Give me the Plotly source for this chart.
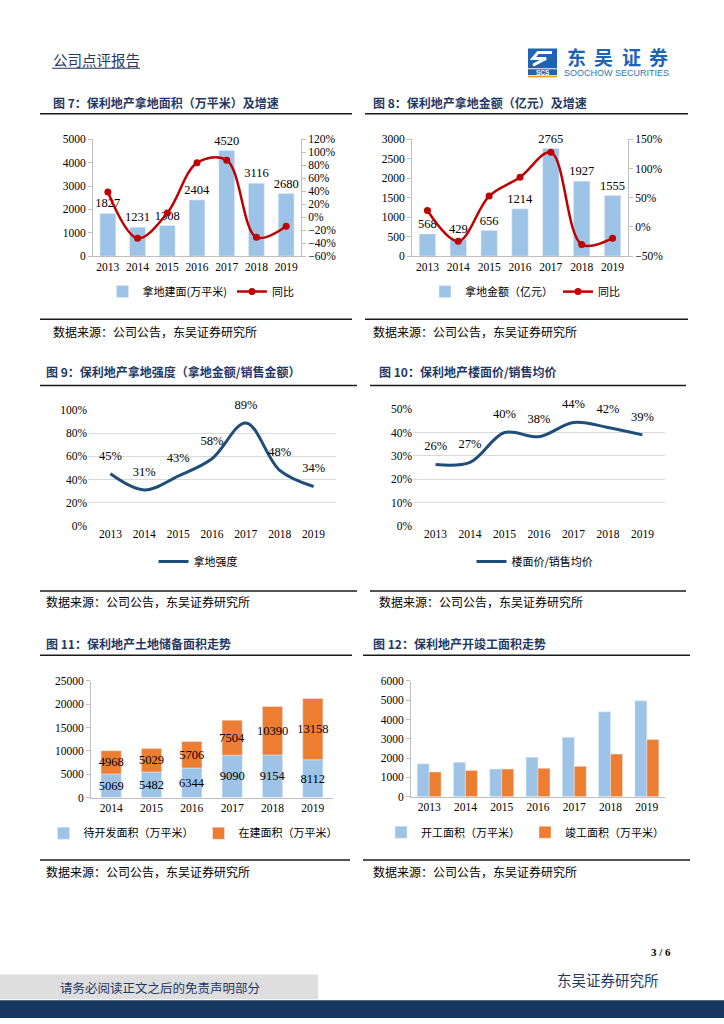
import plotly.graph_objects as go

W, H = 724, 1024
def X(px): return px / W
def Y(py): return 1 - py / H

# ---------------- data ----------------
years = ["2013", "2014", "2015", "2016", "2017", "2018", "2019"]
land_area = [1827, 1231, 1308, 2404, 4520, 3116, 2680]
land_area_yoy = [0.39, -0.326, 0.063, 0.838, 0.880, -0.311, -0.140]
land_amount = [568, 429, 656, 1214, 2765, 1927, 1555]
land_amount_yoy = [0.28, -0.245, 0.529, 0.850, 1.278, -0.303, -0.193]
land_intensity = [0.45, 0.31, 0.43, 0.58, 0.89, 0.48, 0.34]
price_ratio = [0.263, 0.272, 0.40, 0.382, 0.443, 0.422, 0.39]
reserve_years = ["2014", "2015", "2016", "2017", "2018", "2019"]
undeveloped = [5069, 5482, 6344, 9090, 9154, 8112]
under_construction = [4968, 5029, 5706, 7504, 10390, 13158]
start_area = [1700, 1790, 1430, 2040, 3080, 4400, 4970]
complete_area = [1280, 1360, 1430, 1470, 1570, 2210, 2960]

# ---------------- styles ----------------
BLUE = "#9DC3E6"
ORANGE = "#ED7D31"
RED = "#C00000"
NAVY_LINE = "#1F4E79"
TITLE_C = "#1F3864"
AX = "#BFBFBF"
NUMF = "Liberation Serif, Noto Sans CJK SC"
CJK = "Noto Sans CJK SC"
tickf = dict(family=NUMF, size=11.5, color="#000000")
labf = dict(family=NUMF, size=12.5, color="#000")

fig = go.Figure()

# ---- chart 1 ----
fig.add_trace(go.Bar(x=years, y=land_area, name="拿地建面(万平米)", marker_color=BLUE,
                     width=0.53, text=land_area, textposition="outside", cliponaxis=False,
                     constraintext="none", textangle=0, textfont=labf,
                     xaxis="x", yaxis="y", legend="legend"))
fig.add_trace(go.Scatter(x=years, y=land_area_yoy, name="同比", mode="lines+markers",
                         line=dict(color=RED, width=2.5, shape="spline"),
                         marker=dict(color=RED, size=7), cliponaxis=False,
                         xaxis="x", yaxis="y2", legend="legend"))
# ---- chart 2 ----
fig.add_trace(go.Bar(x=years, y=land_amount, name="拿地金额（亿元）", marker_color=BLUE,
                     width=0.53, text=land_amount, textposition="outside", cliponaxis=False,
                     constraintext="none", textangle=0, textfont=labf,
                     xaxis="x2", yaxis="y3", legend="legend2"))
fig.add_trace(go.Scatter(x=years, y=land_amount_yoy, name="同比", mode="lines+markers",
                         line=dict(color=RED, width=2.5, shape="spline"),
                         marker=dict(color=RED, size=7), cliponaxis=False,
                         xaxis="x2", yaxis="y4", legend="legend2"))
# ---- chart 3 ----
fig.add_trace(go.Scatter(x=years, y=land_intensity, name="拿地强度", mode="lines+markers+text",
                         line=dict(color=NAVY_LINE, width=3, shape="spline"),
                         marker=dict(size=16, color="rgba(0,0,0,0)"),
                         texttemplate="%{y:.0%}", textposition="top center", cliponaxis=False,
                         textfont=labf, xaxis="x3", yaxis="y5", legend="legend3"))
# ---- chart 4 ----
fig.add_trace(go.Scatter(x=years, y=price_ratio, name="楼面价/销售均价", mode="lines+markers+text",
                         line=dict(color=NAVY_LINE, width=3, shape="spline"),
                         marker=dict(size=16, color="rgba(0,0,0,0)"),
                         texttemplate="%{y:.0%}", textposition="top center", cliponaxis=False,
                         textfont=labf, xaxis="x4", yaxis="y6", legend="legend4"))
# ---- chart 5 ----
fig.add_trace(go.Bar(x=reserve_years, y=undeveloped, name="待开发面积（万平米）", marker_color=BLUE,
                     width=0.5, text=undeveloped, textposition="inside", insidetextanchor="middle",
                     constraintext="none", textangle=0, textfont=labf,
                     xaxis="x5", yaxis="y7", legend="legend5"))
fig.add_trace(go.Bar(x=reserve_years, y=under_construction, base=undeveloped,
                     name="在建面积（万平米）", marker_color=ORANGE,
                     width=0.5, text=under_construction, textposition="inside", insidetextanchor="middle",
                     constraintext="none", textangle=0, textfont=labf,
                     xaxis="x5", yaxis="y7", legend="legend5"))
# ---- chart 6 ----
fig.add_trace(go.Bar(x=years, y=start_area, base=0, name="开工面积（万平米）", marker_color=BLUE,
                     width=0.33, offset=-0.33, xaxis="x6", yaxis="y8", legend="legend6"))
fig.add_trace(go.Bar(x=years, y=complete_area, base=0, name="竣工面积（万平米）", marker_color=ORANGE,
                     width=0.33, offset=0.0, xaxis="x6", yaxis="y8", legend="legend6"))

def xax(x0, x1, anchor, line=True):
    return dict(domain=[X(x0), X(x1)], anchor=anchor, type="category", showline=line,
                linecolor=AX, linewidth=1, showgrid=False, zeroline=False, ticks="",
                tickfont=tickf, fixedrange=True)

def yax(y0, y1, anchor, rng, dtick, fmt="d", line=True, grid=False, side="left", overlay=None):
    d = dict(domain=[Y(y1), Y(y0)], anchor=anchor, range=rng, dtick=dtick, showline=line,
             linecolor=AX, linewidth=1, ticks="outside" if line else "", ticklen=4, tickcolor=AX,
             showgrid=grid, gridcolor="#D9D9D9", zeroline=False, tickfont=tickf, side=side,
             tickformat=fmt, fixedrange=True)
    if overlay:
        d["overlaying"] = overlay
        d.pop("domain")
    return d

layout = dict(
    width=W, height=H, margin=dict(l=0, r=0, t=0, b=0),
    paper_bgcolor="white", plot_bgcolor="white", barmode="overlay",
    font=dict(family=NUMF, color="#000"),
    xaxis=xax(93, 301, "y"),
    yaxis=yax(135, 253, "x", [0, 5000], 1000),
    yaxis2=yax(135, 253, "x", [-0.6, 1.2], 0.2, fmt=".0%", side="right", overlay="y"),
    xaxis2=xax(412, 628, "y3"),
    yaxis3=yax(135, 253, "x2", [0, 3000], 500),
    yaxis4=yax(135, 253, "x2", [-0.5, 1.5], 0.5, fmt=".0%", side="right", overlay="y3"),
    xaxis3=xax(88, 336, "y5", line=False),
    yaxis5=yax(409, 526, "x3", [0, 1.0], 0.2, fmt=".0%", line=False, grid=True),
    xaxis4=xax(413, 665, "y6", line=False),
    yaxis6=yax(408, 526, "x4", [0, 0.5], 0.1, fmt=".0%", line=False, grid=True),
    xaxis5=xax(91, 333, "y7"),
    yaxis7=yax(683, 801, "x5", [0, 25000], 5000),
    xaxis6=xax(411, 665, "y8"),
    yaxis8=yax(683, 800, "x6", [0, 6000], 1000),
)

legfont = dict(family=CJK, size=11, color="#000")
def leg(cx, cy):
    return dict(x=X(cx), y=Y(cy), xanchor="center", yanchor="middle", orientation="h",
                font=legfont, bgcolor="rgba(0,0,0,0)", itemwidth=30, tracegroupgap=0)
layout["legend"] = leg(201, 289)
layout["legend2"] = leg(525, 289)
layout["legend3"] = leg(198, 562)
layout["legend4"] = leg(535, 562)
layout["legend5"] = leg(193, 837)
layout["legend6"] = leg(525, 836)
fig.update_layout(**layout)

# ---------------- page decorations ----------------
shapes = []
annotations = []

def hline(y, x0, x1, color="#1a1a1a", w=1.5):
    shapes.append(dict(type="line", xref="paper", yref="paper", x0=X(x0), x1=X(x1),
                       y0=Y(y), y1=Y(y), line=dict(color=color, width=w)))

def rect(x0, y0, x1, y1, color):
    shapes.append(dict(type="rect", xref="paper", yref="paper", x0=X(x0), x1=X(x1),
                       y0=Y(y1), y1=Y(y0), fillcolor=color, line=dict(width=0), layer="below"))

def text(x, y, s, size=12, color="#000", family=CJK, anchor="left", bold=False):
    if bold:
        s = "<b>" + s + "</b>"
    annotations.append(dict(x=X(x), y=Y(y), xref="paper", yref="paper", text=s, showarrow=False,
                            xanchor=anchor, yanchor="middle", borderpad=0,
                            font=dict(family=family, size=size, color=color)))

# header
text(52, 54, "公司点评报告", size=14.5, color="#1F3864")
hline(63, 52, 140, color="#1F3864", w=1)

# logo
rect(528, 43, 557, 63, "#1E64B4")
shapes.append(dict(type="path", xref="paper", yref="paper",
                   path=f"M {X(552)} {Y(47)} L {X(538)} {Y(47)} L {X(533)} {Y(53)} L {X(546)} {Y(53)} L {X(533)} {Y(60)}",
                   line=dict(color="white", width=3)))
rect(528, 64, 557, 70, "#1E64B4")
text(542.5, 67, "<b>SCS</b>", size=6.5, color="white", family="Liberation Sans", anchor="center")
hline(71.5, 528, 557, color="#F4A024", w=1.5)
for i, ch in enumerate("东吴证券"):
    text(576 + i * 27.5, 51.5, ch, size=19, color="#1E64B4", bold=True, anchor="center")
text(563, 68, "SOOCHOW SECURITIES", size=9, color="#2E75B6", family="Liberation Sans")

# titles, rules, sources
titles = [
    (52, 98, "图 7：保利地产拿地面积（万平米）及增速"),
    (372, 98, "图 8：保利地产拿地金额（亿元）及增速"),
    (45, 370, "图 9：保利地产拿地强度（拿地金额/销售金额）"),
    (378, 370, "图 10：保利地产楼面价/销售均价"),
    (45, 645, "图 11：保利地产土地储备面积走势"),
    (372, 645, "图 12：保利地产开竣工面积走势"),
]
for x, y, s in titles:
    text(x, y, s, size=12, color=TITLE_C, bold=True)

rules = [
    (109, 40, 352), (109, 365, 688),
    (317, 40, 352), (317, 365, 688),
    (384, 40, 357), (384, 370, 686),
    (592, 40, 357), (592, 370, 686),
    (657, 40, 352), (657, 363, 690),
    (864, 40, 350), (864, 363, 690),
]
for y, x0, x1 in rules:
    hline(y, x0, x1)

src = "数据来源：公司公告，东吴证券研究所"
for x, y in [(52, 329), (372, 329), (45, 603), (378, 603), (45, 876), (372, 876)]:
    text(x, y, src, size=12, color="#000")

# footer
text(672, 957, "3 / 6", size=11, family="Liberation Serif", anchor="right", bold=True)
text(660, 985, "东吴证券研究所", size=14.5, color="#1F3864", anchor="right")
rect(0, 980, 318, 1005, "#DEDEDE")
text(160, 993, "请务必阅读正文之后的免责声明部分", size=12.5, color="#1F3864", anchor="center")
rect(0, 1006, 724, 1024, "#17375E")

fig.update_layout(shapes=shapes, annotations=annotations)
fig.write_html("out.html", config={"displayModeBar": False},
               post_script="document.body.style.margin='0px';document.body.style.padding='0px';")
